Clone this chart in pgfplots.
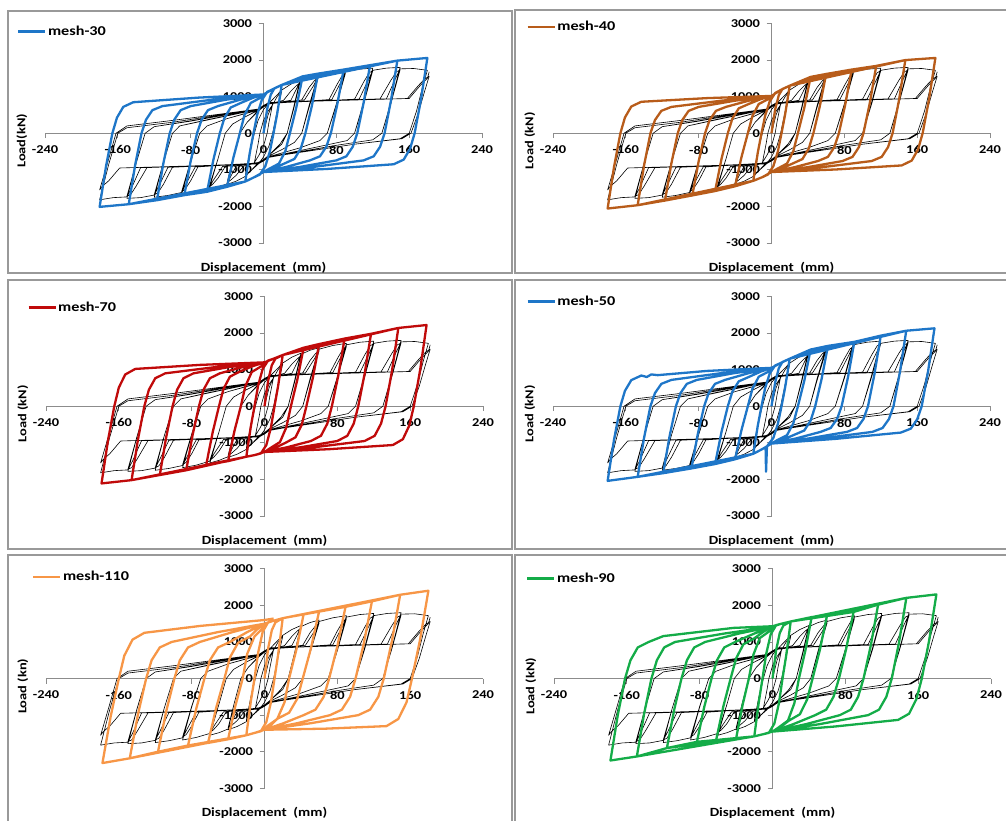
\documentclass[border=0pt]{standalone}
\usepackage{pgfplots}
\pgfplotsset{compat=1.18}
\usepackage{pgfplotstable}
\usepackage{fontspec}
\setmainfont{Carlito}[FakeStretch=1.2]

\definecolor{mblue}{RGB}{30,118,200}
\definecolor{mbrown}{RGB}{184,92,26}
\definecolor{mred}{RGB}{192,10,10}
\definecolor{morange}{RGB}{247,150,70}
\definecolor{mgreen}{RGB}{20,172,72}

% test curve (same in every panel)
\pgfplotstableread[row sep=\\]{
x y \\
0 0 \\ 5 500 \\ 10 800 \\
6 300 \\ 4 0 \\ 0 -350 \\ -5 -600 \\ -10 -800 \\
-6 -300 \\ -4 0 \\ 0 350 \\ 5 600 \\ 10 780 \\ 15 1000 \\ 20 1150 \\
15 600 \\ 10 0 \\ 6 -350 \\ 0 -650 \\ -6 -850 \\ -15 -1050 \\ -20 -1150 \\
-15 -500 \\ -10 0 \\ -6 350 \\ 0 650 \\ 6 820 \\ 15 1050 \\ 20 1180 \\ 30 1340 \\ 40 1450 \\
33 700 \\ 26 0 \\ 20 -300 \\ 6 -600 \\ 0 -720 \\ -6 -820 \\ -15 -1050 \\ -20 -1180 \\ -30 -1310 \\ -40 -1400 \\
-33 -650 \\ -26 0 \\ -18 300 \\ -6 600 \\ 0 720 \\ 6 800 \\ 22 900 \\ 30 1150 \\ 36 1300 \\ 40 1380 \\
33 650 \\ 26 0 \\ 18 -300 \\ 6 -600 \\ 0 -720 \\ -6 -800 \\ -22 -900 \\ -30 -1150 \\ -36 -1280 \\ -40 -1350 \\
-33 -650 \\ -26 0 \\ -18 300 \\ -6 620 \\ 0 720 \\ 6 800 \\ 30 900 \\ 36 1200 \\ 40 1420 \\ 50 1530 \\ 60 1600 \\
50 750 \\ 42 0 \\ 34 -250 \\ 20 -450 \\ 6 -620 \\ 0 -720 \\ -6 -800 \\ -30 -900 \\ -36 -1180 \\ -40 -1380 \\ -50 -1480 \\ -60 -1550 \\
-50 -700 \\ -42 0 \\ -34 250 \\ -20 450 \\ -6 620 \\ 0 720 \\ 6 800 \\ 42 910 \\ 50 1250 \\ 56 1440 \\ 60 1520 \\
50 700 \\ 42 0 \\ 34 -250 \\ 20 -450 \\ 6 -620 \\ 0 -720 \\ -6 -800 \\ -42 -910 \\ -50 -1230 \\ -56 -1400 \\ -60 -1480 \\
-50 -700 \\ -42 0 \\ -34 250 \\ -20 450 \\ -6 630 \\ 0 730 \\ 6 810 \\ 45 910 \\ 55 1300 \\ 60 1560 \\ 75 1660 \\ 90 1720 \\
80 800 \\ 70 0 \\ 62 -200 \\ 40 -400 \\ 6 -640 \\ 0 -730 \\ -6 -810 \\ -45 -910 \\ -55 -1280 \\ -60 -1500 \\ -75 -1610 \\ -90 -1680 \\
-80 -780 \\ -70 0 \\ -62 200 \\ -40 400 \\ -6 630 \\ 0 730 \\ 6 810 \\ 72 920 \\ 80 1300 \\ 86 1560 \\ 90 1640 \\
80 760 \\ 70 0 \\ 62 -200 \\ 40 -400 \\ 6 -640 \\ 0 -730 \\ -6 -810 \\ -72 -920 \\ -80 -1300 \\ -86 -1530 \\ -90 -1600 \\
-80 -760 \\ -70 0 \\ -62 200 \\ -40 400 \\ -6 640 \\ 0 740 \\ 6 820 \\ 75 920 \\ 85 1400 \\ 90 1680 \\ 105 1750 \\ 120 1780 \\
110 850 \\ 100 0 \\ 92 -200 \\ 60 -370 \\ 6 -650 \\ 0 -740 \\ -6 -820 \\ -75 -920 \\ -85 -1380 \\ -90 -1620 \\ -105 -1700 \\ -120 -1750 \\
-110 -800 \\ -100 0 \\ -92 200 \\ -60 370 \\ -6 650 \\ 0 740 \\ 6 820 \\ 100 930 \\ 110 1400 \\ 116 1650 \\ 120 1710 \\
110 800 \\ 100 0 \\ 92 -200 \\ 60 -370 \\ 6 -650 \\ 0 -740 \\ -6 -820 \\ -100 -930 \\ -110 -1400 \\ -116 -1630 \\ -120 -1680 \\
-110 -800 \\ -100 0 \\ -92 200 \\ -60 380 \\ -6 650 \\ 0 750 \\ 6 830 \\ 105 930 \\ 115 1450 \\ 120 1720 \\ 135 1780 \\ 150 1800 \\
140 850 \\ 130 0 \\ 120 -180 \\ 80 -330 \\ 6 -650 \\ 0 -750 \\ -6 -830 \\ -105 -930 \\ -115 -1450 \\ -120 -1690 \\ -135 -1760 \\ -150 -1780 \\
-140 -830 \\ -130 0 \\ -120 180 \\ -80 330 \\ -6 660 \\ 0 750 \\ 6 830 \\ 128 940 \\ 140 1450 \\ 146 1680 \\ 150 1730 \\
140 820 \\ 130 0 \\ 120 -180 \\ 80 -330 \\ 6 -660 \\ 0 -750 \\ -6 -830 \\ -128 -940 \\ -140 -1450 \\ -146 -1680 \\ -150 -1720 \\
-140 -820 \\ -130 0 \\ -120 180 \\ -80 340 \\ -6 660 \\ 0 760 \\ 6 840 \\ 135 940 \\ 145 1500 \\ 150 1760 \\ 165 1770 \\ 180 1720 \\
174 1200 \\ 168 600 \\ 160 0 \\ 150 -150 \\ 100 -300 \\ 6 -650 \\ 0 -760 \\ -6 -840 \\ -135 -940 \\ -145 -1500 \\ -150 -1740 \\ -165 -1760 \\ -180 -1820 \\
-170 -850 \\ -160 0 \\ -150 150 \\ -100 300 \\ -6 660 \\ 0 760 \\ 6 840 \\ 158 950 \\ 170 1300 \\ 177 1480 \\ 182 1560 \\
177 1150 \\ 170 550 \\ 162 0 \\ 152 -150 \\ 100 -300 \\ 6 -650 \\ 0 -760 \\ -6 -840 \\ -158 -950 \\ -170 -1300 \\ -177 -1450 \\ -180 -1550 \\
-170 -700 \\ -162 0 \\ -150 200 \\ -100 350 \\ -6 660 \\ 0 760 \\ 6 840 \\ 160 950 \\ 172 1300 \\ 180 1500 \\ 182 1680 \\
}\expdata

\pgfplotsset{
  hyst/.style={
    scale only axis, width=437pt, height=219.5pt,
    xmin=-240, xmax=240, ymin=-3000, ymax=3000,
    axis lines=middle,
    axis line style={-, draw=black!45, line width=0.8pt},
    xtick={-240,-160,-80,0,80,160,240},
    xticklabels={-240,-160,-80,0,80,160,240},
    ytick={-3000,-2000,-1000,0,1000,2000,3000},
    yticklabels={-3000,-2000,-1000,0,1000,2000,3000},
    hide obscured x ticks=false, hide obscured y ticks=false,
    tick align=outside, major tick length=5pt,
    major tick style={draw=black!45, line width=0.8pt},
    tick label style={font=\bfseries\fontsize{12}{14}\selectfont},
    xticklabel style={yshift=-4pt},
    yticklabel style={xshift=-3pt},
    xlabel={Displacement\ \ (mm)},
    xlabel style={at={(axis description cs:0.5,-0.112)}, anchor=center,
      font=\bfseries\fontsize{12.5}{15}\selectfont},
    ylabel style={at={(axis description cs:-0.053,0.465)}, anchor=center, rotate=90,
      font=\bfseries\fontsize{12}{14}\selectfont},
    legend style={draw=none, fill=none, anchor=west, inner sep=0pt,
      font=\bfseries\fontsize{13.5}{16}\selectfont, nodes={inner sep=1.5pt}},
    legend image code/.code={\draw[#1] (0pt,0pt) -- (27pt,0pt);},
  },
  exp/.style={black, line width=0.6pt, line join=round, forget plot},
  sim/.style={line width=2.3pt, line join=round},
}

\begin{document}
\begin{tikzpicture}
\useasboundingbox (0,0) rectangle (1006pt,821pt);
\clip (0,0) rectangle (1006pt,821pt);

% panel frames
\draw[black!40, line width=1.5pt] (8pt,548pt) rectangle (512pt,810pt);
\draw[black!40, line width=1.5pt] (515pt,548pt) rectangle (1012pt,811pt);
\draw[black!40, line width=1.5pt] (8pt,272pt) rectangle (512pt,541pt);
\draw[black!40, line width=1.5pt] (515pt,272pt) rectangle (1012pt,541pt);
\draw[black!40, line width=1.5pt] (8pt,-9pt) rectangle (512pt,266pt);
\draw[black!40, line width=1.5pt] (515pt,-9pt) rectangle (1012pt,266pt);

% mesh-30
\begin{axis}[hyst, at={(45pt,578pt)}, anchor=south west, ylabel={Load(kN)},
  legend style={at={(axis description cs:-0.064,0.963)}}]
\addplot[exp] table {\expdata};
\addplot[sim, mblue] coordinates {
(0,0)(4,660)(8,1056)(12,1228)(20,1320)
(15,528)(11,0)(7,-498)(2,-901)(-4,-1130)(-10,-1200)(-20,-1320)
(-15,-528)(-11,0)(-7,498)(-2,901)(4,1130)(10,1200)(20,1320)(43,1555)
(36,700)(29,0)(24,-488)(17,-829)(6,-975)(0,-1060)(-10,-1200)(-20,-1320)(-40,-1464)
(-33,-659)(-26,0)(-21,488)(-14,829)(-3,975)(0,1060)(10,1200)(20,1320)(43,1555)(60,1630)
(53,734)(46,0)(41,-414)(34,-703)(23,-827)(11,-964)(0,-1060)(-10,-1200)(-20,-1320)(-40,-1464)(-62,-1600)
(-55,-720)(-48,0)(-43,414)(-36,703)(-25,827)(-12,964)(0,1060)(10,1200)(20,1320)(60,1630)(88,1740)
(81,783)(74,0)(69,-371)(62,-631)(51,-742)(25,-921)(0,-1060)(-10,-1200)(-20,-1320)(-62,-1600)(-87,-1693)
(-80,-762)(-73,0)(-68,371)(-61,631)(-50,742)(-25,921)(0,1060)(10,1200)(20,1320)(88,1740)(117,1860)
(110,837)(103,0)(98,-371)(91,-631)(80,-742)(40,-921)(0,-1060)(-10,-1200)(-20,-1320)(-87,-1693)(-117,-1830)
(-110,-824)(-103,0)(-98,371)(-91,631)(-80,742)(-40,921)(0,1060)(10,1200)(20,1320)(117,1860)(147,1985)
(140,893)(133,0)(128,-371)(121,-631)(110,-742)(55,-921)(0,-1060)(-10,-1200)(-20,-1320)(-117,-1830)(-148,-1940)
(-141,-873)(-134,0)(-129,371)(-122,631)(-111,742)(-55,921)(0,1060)(10,1200)(20,1320)(147,1985)(180,2058)
(173,926)(166,0)(161,-424)(154,-721)(143,-848)(71,-974)(0,-1060)(-10,-1200)(-20,-1320)(-148,-1940)(-180,-2013)
(-173,-906)(-166,0)(-161,424)(-154,721)(-143,848)(-71,974)(0,1060)(10,1200)
};
\addlegendentry{mesh-30}
\end{axis}

% mesh-40
\begin{axis}[hyst, at={(553pt,578pt)}, anchor=south west, ylabel={Load (kN)},
  legend style={at={(axis description cs:-0.061,0.985)}}]
\addplot[exp] table {\expdata};
\addplot[sim, mbrown] coordinates {
(0,0)(4,650)(8,1040)(12,1209)(20,1300)
(15,520)(11,0)(7,-498)(2,-901)(-4,-1130)(-10,-1200)(-20,-1300)
(-15,-520)(-11,0)(-7,479)(-2,867)(4,1100)(10,1180)(20,1300)(43,1540)
(36,693)(29,0)(24,-488)(17,-829)(6,-975)(0,-1060)(-10,-1200)(-20,-1300)(-40,-1450)
(-33,-653)(-26,0)(-21,470)(-14,799)(-3,940)(0,1020)(10,1180)(20,1300)(43,1540)(60,1620)
(53,729)(46,0)(41,-415)(34,-706)(23,-830)(11,-965)(0,-1060)(-10,-1200)(-20,-1300)(-40,-1450)(-62,-1580)
(-55,-711)(-48,0)(-43,400)(-36,680)(-25,800)(-12,930)(0,1020)(10,1180)(20,1300)(60,1620)(88,1740)
(81,783)(74,0)(69,-380)(62,-646)(51,-760)(25,-930)(0,-1060)(-10,-1200)(-20,-1300)(-62,-1580)(-87,-1700)
(-80,-765)(-73,0)(-68,360)(-61,612)(-50,720)(-25,890)(0,1020)(10,1180)(20,1300)(88,1740)(115,1840)
(108,828)(101,0)(96,-380)(89,-646)(78,-760)(39,-930)(0,-1060)(-10,-1200)(-20,-1300)(-87,-1700)(-117,-1840)
(-110,-828)(-103,0)(-98,360)(-91,612)(-80,720)(-40,890)(0,1020)(10,1180)(20,1300)(115,1840)(147,2000)
(140,900)(133,0)(128,-380)(121,-646)(110,-760)(55,-930)(0,-1060)(-10,-1200)(-20,-1300)(-117,-1840)(-147,-1967)
(-140,-885)(-133,0)(-128,360)(-121,612)(-110,720)(-55,890)(0,1020)(10,1180)(20,1300)(147,2000)(180,2058)
(173,926)(166,0)(161,-440)(154,-748)(143,-880)(71,-990)(0,-1060)(-10,-1200)(-20,-1300)(-147,-1967)(-180,-2058)
(-173,-926)(-166,0)(-161,430)(-154,731)(-143,860)(-71,960)(0,1020)(10,1180)
};
\addlegendentry{mesh-40}
\end{axis}

% mesh-70
\begin{axis}[hyst, at={(46pt,305pt)}, anchor=south west, ylabel={Load (kN)},
  legend style={at={(axis description cs:-0.043,0.95)}}]
\addplot[exp] table {\expdata};
\addplot[sim, mred] coordinates {
(0,0)(4,700)(8,1120)(12,1302)(20,1400)
(15,560)(11,0)(7,-588)(2,-1063)(-4,-1290)(-10,-1330)(-20,-1380)
(-15,-552)(-11,0)(-7,564)(-2,1020)(4,1250)(10,1300)(20,1400)(43,1600)
(36,720)(29,0)(24,-575)(17,-978)(6,-1150)(0,-1250)(-10,-1330)(-20,-1380)(-40,-1500)
(-33,-675)(-26,0)(-21,550)(-14,935)(-3,1100)(0,1200)(10,1300)(20,1400)(43,1600)(60,1700)
(53,765)(46,0)(41,-500)(34,-850)(23,-1000)(11,-1145)(0,-1250)(-10,-1330)(-20,-1380)(-40,-1500)(-64,-1600)
(-57,-720)(-50,0)(-45,475)(-38,808)(-27,950)(-13,1095)(0,1200)(10,1300)(20,1400)(60,1700)(88,1850)
(81,833)(74,0)(69,-475)(62,-808)(51,-950)(25,-1120)(0,-1250)(-10,-1330)(-20,-1380)(-64,-1600)(-86,-1750)
(-79,-788)(-72,0)(-67,450)(-60,765)(-49,900)(-24,1070)(0,1200)(10,1300)(20,1400)(88,1850)(117,1980)
(110,891)(103,0)(98,-475)(91,-808)(80,-950)(40,-1120)(0,-1250)(-10,-1330)(-20,-1380)(-86,-1750)(-115,-1880)
(-108,-846)(-101,0)(-96,450)(-89,765)(-78,900)(-39,1070)(0,1200)(10,1300)(20,1400)(117,1980)(147,2140)
(140,963)(133,0)(128,-475)(121,-808)(110,-950)(55,-1120)(0,-1250)(-10,-1330)(-20,-1380)(-115,-1880)(-146,-2020)
(-139,-909)(-132,0)(-127,450)(-120,765)(-109,900)(-54,1070)(0,1200)(10,1300)(20,1400)(147,2140)(178,2220)
(171,999)(164,0)(159,-530)(152,-901)(141,-1060)(70,-1175)(0,-1250)(-10,-1330)(-20,-1380)(-146,-2020)(-179,-2110)
(-172,-950)(-165,0)(-160,510)(-153,867)(-142,1020)(-71,1130)(0,1200)(10,1300)
};
\addlegendentry{mesh-70}
\end{axis}

% mesh-50
\begin{axis}[hyst, at={(553pt,305pt)}, anchor=south west, ylabel={Load (kN)},
  legend style={at={(axis description cs:-0.061,0.977)}}]
\addplot[exp] table {\expdata};
\addplot[sim, mblue] coordinates {
(0,0)(4,650)(8,1040)(12,1209)(20,1300)
(15,520)(11,0)(7,-479)(2,-867)(-5,-1095)(-6,-1790)(-6.5,-1120)(-10,-1170)(-20,-1300)
(-15,-520)(-11,0)(-7,494)(-2,893)(4,1115)(10,1180)(20,1300)(43,1550)
(36,698)(29,0)(24,-465)(17,-791)(6,-930)(0,-1020)(-10,-1170)(-20,-1300)(-40,-1450)
(-33,-653)(-26,0)(-21,475)(-14,808)(-3,950)(0,1050)(10,1180)(20,1300)(43,1550)(62,1650)
(55,743)(48,0)(43,-390)(36,-663)(25,-780)(12,-920)(0,-1020)(-10,-1170)(-20,-1300)(-40,-1450)(-62,-1580)
(-55,-711)(-48,0)(-43,400)(-36,680)(-25,800)(-12,945)(0,1050)(10,1180)(20,1300)(62,1650)(91,1760)
(84,792)(77,0)(72,-350)(65,-595)(54,-700)(27,-880)(0,-1020)(-10,-1170)(-20,-1300)(-62,-1580)(-88,-1700)
(-81,-765)(-74,0)(-69,360)(-62,612)(-51,720)(-25,905)(0,1050)(10,1180)(20,1300)(91,1760)(120,1930)
(113,869)(106,0)(101,-350)(94,-595)(83,-700)(41,-880)(0,-1020)(-10,-1170)(-20,-1300)(-88,-1700)(-119,-1830)
(-112,-824)(-105,0)(-100,360)(-93,612)(-82,720)(-41,905)(0,1050)(10,1180)(20,1300)(120,1930)(148,2064)
(141,929)(134,0)(129,-350)(122,-595)(111,-700)(55,-880)(0,-1020)(-10,-1170)(-20,-1300)(-119,-1830)(-147,-1930)
(-140,-869)(-133,0)(-128,360)(-121,612)(-110,720)(-55,905)(0,1050)(10,1180)(20,1300)(148,2064)(179,2130)
(172,959)(165,0)(160,-360)(153,-612)(142,-720)(71,-890)(0,-1020)(-10,-1170)(-20,-1300)(-147,-1930)(-180,-2040)
(-173,-918)(-166,0)(-161,420)(-154,714)(-143,840)(-137,800)(-132,870)(-125,850)(-71,965)(0,1050)(10,1180)
};
\addlegendentry{mesh-50}
\end{axis}

% mesh-110
\begin{axis}[hyst, at={(46pt,32.7pt)}, anchor=south west, ylabel={Load (kn)},
  legend style={at={(axis description cs:-0.032,0.963)}}]
\addplot[exp] table {\expdata};
\addplot[sim, morange] coordinates {
(0,0)(4,825)(8,1320)(12,1535)(20,1650)
(15,660)(11,0)(7,-658)(2,-1190)(-4,-1440)(-10,-1480)(-20,-1550)
(-15,-620)(-11,0)(-7,705)(-2,1275)(4,1540)(10,1580)(20,1650)(43,1760)
(35,792)(27,0)(22,-650)(14,-1105)(3,-1300)(0,-1400)(-10,-1480)(-20,-1550)(-40,-1660)
(-32,-747)(-24,0)(-19,675)(-11,1148)(-3,1350)(0,1500)(10,1580)(20,1650)(43,1760)(60,1840)
(51,828)(42,0)(36,-550)(27,-935)(14,-1100)(7,-1270)(0,-1400)(-10,-1480)(-20,-1550)(-40,-1660)(-62,-1760)
(-53,-792)(-44,0)(-38,575)(-29,978)(-16,1150)(-8,1345)(0,1500)(10,1580)(20,1650)(60,1840)(89,1960)
(80,882)(71,0)(65,-500)(56,-850)(43,-1000)(21,-1220)(0,-1400)(-10,-1480)(-20,-1550)(-62,-1760)(-84,-1830)
(-75,-824)(-66,0)(-60,500)(-51,850)(-38,1000)(-19,1270)(0,1500)(10,1580)(20,1650)(89,1960)(118,2110)
(109,950)(100,0)(94,-500)(85,-850)(72,-1000)(36,-1220)(0,-1400)(-10,-1480)(-20,-1550)(-84,-1830)(-117,-2000)
(-108,-900)(-99,0)(-93,500)(-84,850)(-71,1000)(-35,1270)(0,1500)(10,1580)(20,1650)(118,2110)(149,2290)
(140,1031)(131,0)(125,-500)(116,-850)(103,-1000)(51,-1220)(0,-1400)(-10,-1480)(-20,-1550)(-117,-2000)(-148,-2180)
(-139,-981)(-130,0)(-124,500)(-115,850)(-102,1000)(-51,1270)(0,1500)(10,1580)(20,1650)(149,2290)(180,2400)
(171,1080)(162,0)(156,-650)(147,-1105)(134,-1300)(67,-1370)(0,-1400)(-10,-1480)(-20,-1550)(-148,-2180)(-178,-2310)
(-169,-1040)(-160,0)(-154,625)(-145,1063)(-132,1250)(-70,1440)(0,1600)(10,1640)
};
\addlegendentry{mesh-110}
\end{axis}

% mesh-90
\begin{axis}[hyst, at={(554pt,32.7pt)}, anchor=south west, ylabel={Load (kN)},
  legend style={at={(axis description cs:-0.064,0.956)}}]
\addplot[exp] table {\expdata};
\addplot[sim, mgreen] coordinates {
(0,0)(4,780)(8,1248)(12,1450)(20,1560)
(15,624)(11,0)(7,-682)(2,-1233)(-4,-1485)(-10,-1520)(-20,-1580)
(-15,-632)(-11,0)(-7,667)(-2,1207)(4,1460)(10,1500)(20,1560)(43,1680)
(36,756)(29,0)(24,-675)(17,-1148)(6,-1350)(0,-1450)(-10,-1520)(-20,-1580)(-40,-1640)
(-33,-738)(-26,0)(-21,650)(-14,1105)(-3,1300)(0,1420)(10,1500)(20,1560)(43,1680)(60,1740)
(52,783)(44,0)(38,-575)(30,-978)(18,-1150)(9,-1320)(0,-1450)(-10,-1520)(-20,-1580)(-40,-1640)(-62,-1690)
(-54,-761)(-46,0)(-40,550)(-32,935)(-20,1100)(-10,1280)(0,1420)(10,1500)(20,1560)(60,1740)(89,1820)
(81,819)(73,0)(67,-500)(59,-850)(47,-1000)(23,-1245)(0,-1450)(-10,-1520)(-20,-1580)(-62,-1690)(-83,-1730)
(-75,-779)(-67,0)(-61,500)(-53,850)(-41,1000)(-20,1230)(0,1420)(10,1500)(20,1560)(89,1820)(116,2020)
(108,909)(100,0)(94,-500)(86,-850)(74,-1000)(37,-1245)(0,-1450)(-10,-1520)(-20,-1580)(-83,-1730)(-116,-1900)
(-108,-855)(-100,0)(-94,500)(-86,850)(-74,1000)(-37,1230)(0,1420)(10,1500)(20,1560)(116,2020)(147,2205)
(139,992)(131,0)(125,-500)(117,-850)(105,-1000)(52,-1245)(0,-1450)(-10,-1520)(-20,-1580)(-116,-1900)(-149,-2130)
(-141,-959)(-133,0)(-127,500)(-119,850)(-107,1000)(-53,1230)(0,1420)(10,1500)(20,1560)(147,2205)(180,2300)
(172,1035)(164,0)(158,-565)(150,-961)(138,-1130)(69,-1310)(0,-1450)(-10,-1520)(-20,-1580)(-149,-2130)(-178,-2240)
(-170,-1008)(-162,0)(-156,500)(-148,850)(-136,1000)(-120,1160)(-43,1384)(0,1430)(10,1500)
};
\addlegendentry{mesh-90}
\end{axis}
\end{tikzpicture}
\end{document}
